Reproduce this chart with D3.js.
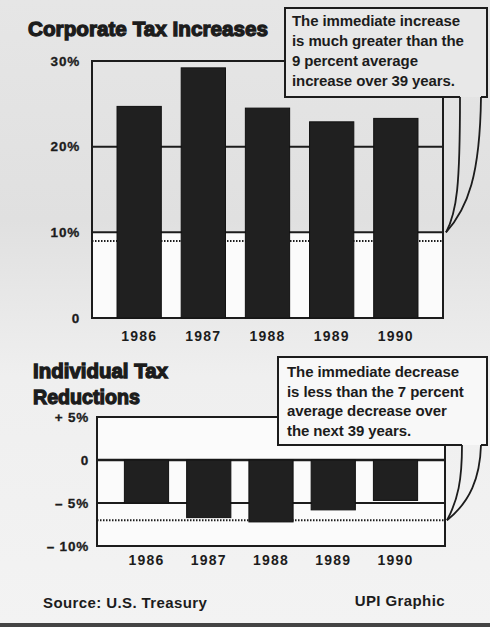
<!DOCTYPE html>
<html><head><meta charset="utf-8">
<script src="https://cdn.jsdelivr.net/npm/d3@7"></script>
<style>
html,body{margin:0;padding:0;background:#ececec;}
svg{display:block;font-family:"Liberation Sans",Arial,Helvetica,sans-serif;}
</style></head>
<body>
<svg id="chart" width="490" height="627"></svg>
<script>
// ---- data ----
const years = ["1986","1987","1988","1989","1990"];
const corporateValues = [24.7, 29.2, 24.5, 22.9, 23.3];
const individualValues = [-5.0, -6.7, -7.2, -5.8, -4.7];
const corporateAverage = 9;
const individualAverage = -7;
const corpTicks = [0, 10, 20, 30];
const corpTickLabels = ["0", "10%", "20%", "30%"];
const indTicks = [5, 0, -5, -10];
const indTickLabels = ["+ 5%", "0", "\u2013 5%", "\u2013 10%"];
const corpGrid = [10, 20];
const indGrid = [0, -5];
const corpNote = ["The immediate increase", "is much greater than the", "9 percent average", "increase over 39 years."];
const indNote = ["The immediate decrease", "is less than the 7 percent", "average decrease over", "the next 39 years."];

const svg = d3.select("#chart");
const ink = "#1c1c1c";

// background
const defs = svg.append("defs");
const g0 = defs.append("linearGradient").attr("id","bg").attr("x1",0).attr("y1",0).attr("x2",0).attr("y2",1);
g0.append("stop").attr("offset","0%").attr("stop-color","#e6e6e6");
g0.append("stop").attr("offset","35%").attr("stop-color","#e0e0e0");
g0.append("stop").attr("offset","60%").attr("stop-color","#efefef");
g0.append("stop").attr("offset","100%").attr("stop-color","#f3f3f3");
svg.append("rect").attr("width",490).attr("height",627).attr("fill","url(#bg)");

function tickStyle(sel){
  sel.attr("font-size",13.5).attr("font-weight","bold").attr("fill",ink)
    .attr("stroke",ink).attr("stroke-width",0.3)
    .attr("font-family","Liberation Sans, Arial, sans-serif").attr("letter-spacing","0.8");
}
function yearStyle(sel){
  sel.attr("font-size",14).attr("font-weight","bold").attr("fill",ink)
    .attr("font-family","Liberation Sans, Arial, sans-serif").attr("letter-spacing","1.2");
}

// ================= Corporate chart =================
const cx = d3.scaleBand().domain(years).range([92,443]).paddingInner(0.31).paddingOuter(0.39);
const cy = d3.scaleLinear().domain([0,30]).range([318,61]);

svg.append("rect").attr("x",92).attr("y",cy(10)).attr("width",443-92).attr("height",cy(0)-cy(10)).attr("fill","#fbfbfb");

svg.selectAll(".cgrid").data(corpGrid).join("line")
  .attr("x1",92).attr("x2",443).attr("y1",d=>cy(d)).attr("y2",d=>cy(d))
  .attr("stroke",ink).attr("stroke-width",2);
svg.append("line").attr("x1",92).attr("x2",443).attr("y1",cy(corporateAverage)).attr("y2",cy(corporateAverage))
  .attr("stroke",ink).attr("stroke-width",2).attr("stroke-dasharray","1.5,1.5");

svg.append("rect").attr("x",92).attr("y",cy(30)).attr("width",443-92).attr("height",cy(0)-cy(30))
  .attr("fill","none").attr("stroke",ink).attr("stroke-width",2);

svg.selectAll(".cbar").data(corporateValues).join("rect")
  .attr("x",(d,i)=>cx(years[i])).attr("width",cx.bandwidth())
  .attr("y",d=>cy(d)).attr("height",d=>cy(0)-cy(d))
  .attr("fill","#202020").attr("stroke","#111").attr("stroke-width",1);

const cAxis = svg.append("g").attr("transform","translate(80,0)")
  .call(d3.axisLeft(cy).tickValues(corpTicks).tickSize(0).tickPadding(0).tickFormat((d,i)=>corpTickLabels[i]));
cAxis.select(".domain").remove();
tickStyle(cAxis.selectAll("text"));

const cxAxis = svg.append("g").attr("transform","translate(0,331)")
  .call(d3.axisBottom(cx).tickSize(0).tickPadding(0));
cxAxis.select(".domain").remove();
yearStyle(cxAxis.selectAll("text"));

svg.append("text").attr("x",28).attr("y",36).text("Corporate Tax Increases")
  .attr("font-size",21).attr("font-weight","900").attr("fill",ink)
  .attr("stroke",ink).attr("stroke-width",1.3)
  .attr("textLength",240).attr("lengthAdjust","spacingAndGlyphs");

// callout box + tail
svg.append("rect").attr("x",285).attr("y",8).attr("width",202).attr("height",89).attr("fill","#e8e8e8");
svg.append("path").attr("d","M460,97 H285 V8 H487 V97 H481")
  .attr("fill","none").attr("stroke",ink).attr("stroke-width",2);
svg.append("path").attr("d",`M460,97 C460,185 457,212 446,${cy(10)}`).attr("fill","none").attr("stroke",ink).attr("stroke-width",1.8);
svg.append("path").attr("d",`M481,97 C480,175 468,208 446,${cy(10)}`).attr("fill","none").attr("stroke",ink).attr("stroke-width",1.8);
svg.append("g").selectAll("text").data(corpNote).join("text")
  .attr("x",292).attr("y",(d,i)=>26+i*20).text(d=>d)
  .attr("font-size",15).attr("font-weight","bold").attr("fill",ink).attr("letter-spacing","-0.1");

// ================= Individual chart =================
const ix = d3.scaleBand().domain(years).range([97,445]).paddingInner(0.29).paddingOuter(0.44);
const iy = d3.scaleLinear().domain([-10,5]).range([546,417]);

svg.append("rect").attr("x",97).attr("y",iy(5)).attr("width",445-97).attr("height",iy(-10)-iy(5)).attr("fill","#fbfbfb");

svg.selectAll(".igrid").data(indGrid).join("line")
  .attr("x1",97).attr("x2",445).attr("y1",d=>iy(d)).attr("y2",d=>iy(d))
  .attr("stroke",ink).attr("stroke-width",(d)=>d===0?2.5:2);
svg.append("line").attr("x1",97).attr("x2",445).attr("y1",iy(individualAverage)).attr("y2",iy(individualAverage))
  .attr("stroke",ink).attr("stroke-width",2).attr("stroke-dasharray","1.5,1.5");

svg.append("rect").attr("x",97).attr("y",iy(5)).attr("width",445-97).attr("height",iy(-10)-iy(5))
  .attr("fill","none").attr("stroke",ink).attr("stroke-width",2);

svg.selectAll(".ibar").data(individualValues).join("rect")
  .attr("x",(d,i)=>ix(years[i])).attr("width",ix.bandwidth())
  .attr("y",iy(0)).attr("height",d=>iy(d)-iy(0))
  .attr("fill","#202020").attr("stroke","#111").attr("stroke-width",1);

const iAxis = svg.append("g").attr("transform","translate(89,0)")
  .call(d3.axisLeft(iy).tickValues(indTicks).tickSize(0).tickPadding(0).tickFormat((d,i)=>indTickLabels[i]));
iAxis.select(".domain").remove();
tickStyle(iAxis.selectAll("text"));

const ixAxis = svg.append("g").attr("transform","translate(0,555)")
  .call(d3.axisBottom(ix).tickSize(0).tickPadding(0));
ixAxis.select(".domain").remove();
yearStyle(ixAxis.selectAll("text"));

svg.append("text").attr("x",33).attr("y",378).text("Individual Tax")
  .attr("font-size",20).attr("font-weight","900").attr("fill",ink)
  .attr("stroke",ink).attr("stroke-width",1.3)
  .attr("textLength",135).attr("lengthAdjust","spacingAndGlyphs");
svg.append("text").attr("x",33).attr("y",404).text("Reductions")
  .attr("font-size",20).attr("font-weight","900").attr("fill",ink)
  .attr("stroke",ink).attr("stroke-width",1.3)
  .attr("textLength",107).attr("lengthAdjust","spacingAndGlyphs");

svg.append("rect").attr("x",278).attr("y",357).attr("width",209).attr("height",88).attr("fill","#f8f8f8");
svg.append("path").attr("d","M462,445 H278 V357 H487 V445 H481")
  .attr("fill","none").attr("stroke",ink).attr("stroke-width",2);
svg.append("path").attr("d",`M462,445 C462,480 458,500 447,${iy(individualAverage)}`).attr("fill","none").attr("stroke",ink).attr("stroke-width",1.8);
svg.append("path").attr("d",`M481,445 C480,478 470,502 447,${iy(individualAverage)}`).attr("fill","none").attr("stroke",ink).attr("stroke-width",1.8);
svg.append("g").selectAll("text").data(indNote).join("text")
  .attr("x",287).attr("y",(d,i)=>377+i*19.5).text(d=>d)
  .attr("font-size",15).attr("font-weight","bold").attr("fill",ink).attr("letter-spacing","-0.1");

// footer
svg.append("text").attr("x",43).attr("y",608).text("Source: U.S. Treasury")
  .attr("font-size",15).attr("font-weight","bold").attr("fill",ink).attr("letter-spacing","0.4");
svg.append("text").attr("x",445).attr("y",606).attr("text-anchor","end").text("UPI Graphic")
  .attr("font-size",15).attr("font-weight","bold").attr("fill",ink).attr("letter-spacing","0.4");
svg.append("rect").attr("x",0).attr("y",623).attr("width",490).attr("height",4).attr("fill","#444");
</script>
</body></html>
